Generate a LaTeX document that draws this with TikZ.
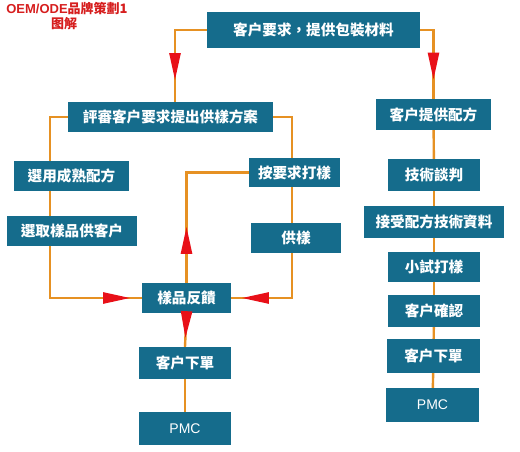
\documentclass[tikz,border=0pt]{standalone}
\usepackage{fontspec}
\setsansfont{Liberation Sans}
\newfontfamily\cjk{Noto Sans CJK TC}
\usepackage{tikz}
\usetikzlibrary{arrows.meta,positioning,calc,decorations.markings}
\definecolor{boxTeal}{RGB}{21,108,140}
\definecolor{lineOrange}{RGB}{230,145,35}
\definecolor{tipRed}{RGB}{232,16,24}
\definecolor{titleRed}{RGB}{214,30,30}

\begin{document}
\begin{tikzpicture}[
        x=1pt, y=-1pt,
        stepbox/.style={rectangle, fill=boxTeal, text=white, inner sep=0pt,
          font=\cjk\fontsize{14.6}{16}\selectfont\bfseries},
        link/.style={draw=lineOrange, line width=2.4pt},
        midtip/.style={postaction={decorate}, decoration={markings,
          mark=at position #1 with {\arrow{Triangle[length=27pt,width=11pt,fill=tipRed,color=tipRed]}}}}
      ]
        \useasboundingbox (0,0) rectangle (520,452);
        % Title
        \node[text=titleRed, font=\cjk\fontsize{13}{14}\selectfont\bfseries] (ttl) at (67,9) {\sffamily OEM/ODE\cjk 品牌策劃1};
        \node[text=titleRed, font=\cjk\fontsize{13}{14}\selectfont\bfseries] (ttl2) at (64,24) {图解};
        % Left boxes
        \node[stepbox, minimum width=213pt, minimum height=36pt] (top) at (313.5,30) {客户要求，提供包裝材料};
        \node[stepbox, minimum width=205pt, minimum height=30pt] (rev) at (170.5,117) {評審客户要求提出供樣方案};
        \node[stepbox, minimum width=115pt, minimum height=30pt] (mature) at (71.5,176) {選用成熟配方};
        \node[stepbox, minimum width=130pt, minimum height=30pt] (pick) at (72,231) {選取樣品供客户};
        \node[stepbox, minimum width=91pt, minimum height=29pt] (make) at (294.5,172.5) {按要求打樣};
        \node[stepbox, minimum width=90pt, minimum height=30pt] (supply) at (296,238) {供樣};
        \node[stepbox, minimum width=89pt, minimum height=30pt] (fb) at (186.5,298) {樣品反饋};
        \node[stepbox, minimum width=92pt, minimum height=32pt] (orderL) at (185,363) {客户下單};
        \node[stepbox, minimum width=92pt, minimum height=33pt,
          font=\sffamily\fontsize{14}{15}\selectfont] (pmcL) at (185,428.5) {PMC};
        % Right column
        \node[stepbox, minimum width=115pt, minimum height=31pt] (cf) at (433.5,114.5) {客户提供配方};
        \node[stepbox, minimum width=92pt, minimum height=32pt] (tech) at (434,175) {技術談判};
        \node[stepbox, minimum width=140pt, minimum height=32pt] (accept) at (434,222) {接受配方技術資料};
        \node[stepbox, minimum width=92pt, minimum height=30pt] (trial) at (434,267) {小試打樣};
        \node[stepbox, minimum width=92pt, minimum height=32pt] (confirm) at (434,311) {客户確認};
        \node[stepbox, minimum width=93pt, minimum height=34pt] (orderR) at (433.5,356) {客户下單};
        \node[stepbox, minimum width=93pt, minimum height=34pt,
          font=\sffamily\fontsize{14}{15}\selectfont] (pmcR) at (432.5,405) {PMC};
        % Side rails
        \coordinate (lx) at (50,0);
        \coordinate (rx) at (292,0);
        % Connectors
        \draw[link, midtip=82pt] (top.west) -| ($(rev.north)+(4.5,0)$);
        \draw[link, midtip=63pt] (top.east) -| (cf.north);
        \draw[link] (rev.west) -| (mature.north -| lx);
        \draw[link] (mature.south -| lx) -- (pick.north -| lx);
        \draw[link, midtip=132pt] (pick.south -| lx) |- (fb.west);
        \draw[link] (rev.east) -| (make.north -| rx);
        \draw[link] (make.south -| rx) -- (supply.north -| rx);
        \draw[link, midtip=95pt] (supply.south -| rx) |- (fb.east);
        \draw[link, midtip=56pt] (fb.north) |- (make.west);
        \draw[link, midtip=25pt] (fb.south) -- (orderL.north);
        \draw[link] (orderL) -- (pmcL);
        \draw[link] (cf) -- (tech);
        \draw[link] (tech) -- (accept);
        \draw[link] (accept) -- (trial);
        \draw[link] (trial) -- (confirm);
        \draw[link] (confirm) -- (orderR);
        \draw[link] (orderR) -- (pmcR);
      \end{tikzpicture}
\end{document}
